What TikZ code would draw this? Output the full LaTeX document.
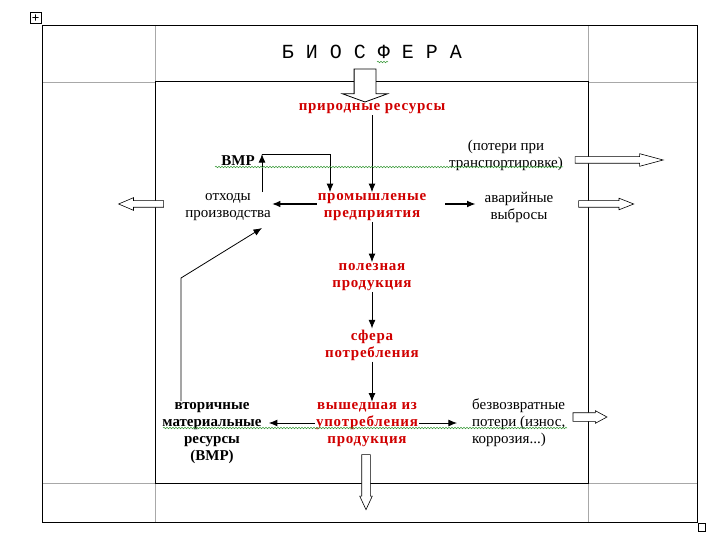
\documentclass[tikz,border=0pt]{standalone}
\usepackage{fontspec}
\setmainfont{Liberation Serif}
\newfontfamily\biomono{Liberation Mono}
\usetikzlibrary{arrows.meta,positioning,calc,shapes.arrows,decorations.pathmorphing}
\definecolor{bioRed}{HTML}{D00000}
\definecolor{bioGrid}{HTML}{A8A8A8}
\definecolor{bioWave}{HTML}{3A9A3A}
\tikzset{
  txt/.style={align=center, font=\fontsize{15}{17}\selectfont, inner sep=1pt},
  redtxt/.style={txt, text=bioRed, font=\fontsize{15}{17}\selectfont\bfseries\addfontfeature{LetterSpace=5}},
  boldtxt/.style={txt, font=\fontsize{15}{17}\selectfont\bfseries},
  biotitle/.style={font=\biomono\fontsize{20}{20}\selectfont, inner sep=1pt},
  farr/.style={-{Latex[length=3mm,width=2.4mm]}, line width=0.8pt},
  hollow/.style={single arrow, draw, line width=0.6pt, fill=white, inner xsep=0pt, minimum width=0pt},
  wavy/.style={draw=bioWave, line width=0.5pt, decorate, decoration={snake, amplitude=0.8pt, segment length=3pt}},
}
\begin{document}
\begin{tikzpicture}[x=1pt, y=-1pt]
  \useasboundingbox (0,0) rectangle (720,540);
  % table frame
  \draw[bioGrid, line width=0.7pt] (155,25) -- (155,82) (588,25) -- (588,82)
    (155,483) -- (155,522) (588,483) -- (588,522)
    (42,82) -- (155,82) (588,82) -- (697,82)
    (42,483) -- (155,483) (588,483) -- (697,483);
  \draw[line width=0.8pt] (42,25) rectangle (697,522);
  \draw[line width=1pt] (155,82) rectangle (588,483);
  % word handles
  \draw[line width=0.5pt] (30,12) rectangle (41,23);
  \draw[line width=0.5pt, {Latex[length=1.2pt]}-{Latex[length=1.2pt]}] (32,17.5) -- (39,17.5);
  \draw[line width=0.5pt, {Latex[length=1.2pt]}-{Latex[length=1.2pt]}] (35.5,14) -- (35.5,21);
  \draw[line width=0.5pt] (698,523) rectangle (705,531);

  \node[biotitle] (bio) at (372,52) {Б И О С Ф Е Р А};
  \node[hollow, rotate=-90, minimum height=33pt, inner ysep=10.5pt, line width=0.8pt,
        single arrow head extend=11.5pt, single arrow tip angle=140] (bioin) at (365,83.5) {};

  \node[redtxt] (nat) at (372,109) {природные ресурсы};
  \node[boldtxt] (vmr) at (238,161) {ВМР};
  \node[txt] (tloss) at (506,155) {(потери при\\транспортировке)};
  \node[txt] (waste) at (228,207) {отходы\\производства};
  \node[redtxt] (ind) at (372,207) {промышленые\\предприятия};
  \node[txt] (acc) at (519,207) {аварийные\\выбросы};
  \node[redtxt] (useful) at (372,277) {полезная\\продукция};
  \node[redtxt] (cons) at (372,345) {сфера\\потребления};
  \node[redtxt] (used) at (367,425) {вышедшая из\\употребления\\продукция};
  \node[boldtxt] (sec) at (212,433) {вторичные\\материальные\\ресурсы\\(ВМР)};
  \node[txt, align=left, anchor=west] (irr) at (471,423) {безвозвратные\\потери (износ,\\коррозия...)};

  \coordinate (vtop) at (262,154);
  \coordinate (vret) at (330,154);
  \coordinate (bend) at (181,278);
  \coordinate (diagtip) at (262,228);

  \draw[farr] (nat.south) -- (ind.north);
  \draw[farr] (ind.south) -- (useful.north);
  \draw[farr] (useful.south) -- (cons.north);
  \draw[farr] (cons.south) -- (cons.south |- used.north);
  \draw[farr, line width=1.6pt] ([yshift=3pt]ind.west) -- ([yshift=3pt]waste.east);
  \draw[farr, line width=1.2pt, shorten <=18pt, shorten >=8pt] ([yshift=3pt]ind.east) -- ([yshift=3pt]acc.west);
  \draw[farr] (waste.north -| vtop) -- (vtop);
  \draw[farr] (vtop) -- (vret) -- (vret |- ind.north);
  \draw[farr] (sec.north -| bend) -- (bend) -- (diagtip);
  \draw[farr, shorten >=6pt] ([yshift=2pt]used.west) -- ([yshift=2pt]used.west -| sec.east);
  \draw[farr, shorten >=14pt] ([yshift=2pt]used.east) -- ([yshift=2pt]used.east -| irr.west);

  % block arrows out of the cycle
  \node[hollow, minimum height=88pt, inner ysep=3pt,
        single arrow head extend=3pt, single arrow tip angle=30] (lossout) at (613,160) {};
  \node[hollow, minimum height=55pt, inner ysep=3pt,
        single arrow head extend=2.5pt, single arrow tip angle=43] (accout) at (602,204) {};
  \node[hollow, shape border rotate=180, minimum height=45pt, inner ysep=3pt,
        single arrow head extend=3pt, single arrow tip angle=46] (wasteout) at (145,204) {};
  \node[hollow, minimum height=34pt, inner ysep=4pt,
        single arrow head extend=2pt, single arrow tip angle=57] (irrout) at (586,417) {};
  \node[hollow, rotate=-90, minimum height=55pt, inner ysep=4pt,
        single arrow head extend=2pt, single arrow tip angle=50] (usedout) at (366,477.5) {};

  % spelling marks
  \draw[wavy] (377,62) -- (388,62);
  \draw[wavy] (215,167) -- (563,167);
  \draw[wavy] (163,428) -- (567,428);
\end{tikzpicture}
\end{document}
